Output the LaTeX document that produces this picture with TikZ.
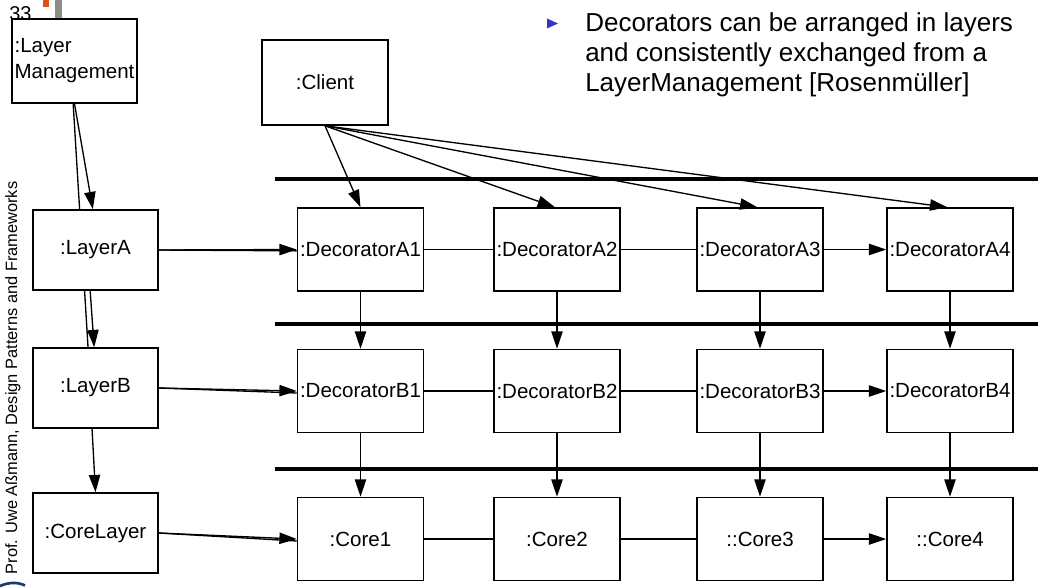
\documentclass[tikz,border=0pt]{standalone}
\usepackage{fontspec}
\setmainfont{Liberation Sans}
\usetikzlibrary{arrows.meta,backgrounds}
\definecolor{bulletblue}{HTML}{3333CC}
\definecolor{logoblue}{HTML}{1F3A6E}
\definecolor{barorange}{HTML}{E0501A}
\definecolor{bargray}{HTML}{8C8C8C}
\begin{document}
\begin{tikzpicture}[x=0.75pt,y=-0.75pt,
  box/.style={draw,line width=1.15pt,fill=white,minimum width=94.5pt,minimum height=62.25pt,inner sep=0pt,font=\fontsize{15.4}{19.5}\selectfont},
  lbox/.style={box,minimum width=93.75pt,minimum height=60pt},
  arr/.style={line width=1pt,-{Triangle[length=13pt,width=8.5pt]}},
  ln/.style={line width=1pt},
  sepline/.style={line width=3pt},
  bigtext/.style={font=\fontsize{19.5}{22.5}\selectfont,anchor=base west,inner sep=0pt}]

\useasboundingbox (0,0) rectangle (1038,587);

% header marks
\fill[barorange] (43,0) rectangle (49,7);
\fill[bargray] (55,0) rectangle (62,20);
\node[font=\fontsize{15}{16}\selectfont,anchor=base west,inner sep=0pt] (pg) at (9,20) {33};

% left column
\node[box,minimum width=93.75pt,minimum height=63pt,align=left] (LM) at (74.5,61) {:Layer\\Management};
\node[box,minimum height=63.75pt] (CL0) at (325,82.5) {:Client};
\node[lbox] (LA) at (95.5,250) {:LayerA};
\node[lbox] (LB) at (95.5,388) {:LayerB};
\node[lbox] (CL) at (95.5,533) {:CoreLayer};

% decorator rows
\node[box] (A1) at (360.5,249.5) {:DecoratorA1};
\node[box] (A2) at (557,249.5) {:DecoratorA2};
\node[box] (A3) at (760,249.5) {:DecoratorA3};
\node[box] (A4) at (950,249.5) {:DecoratorA4};
\node[box] (B1) at (360.5,391) {:DecoratorB1};
\node[box] (B2) at (557,391) {:DecoratorB2};
\node[box] (B3) at (760,391) {:DecoratorB3};
\node[box] (B4) at (950,391) {:DecoratorB4};
\node[box] (C1) at (360.5,539) {:Core1};
\node[box] (C2) at (557,539) {:Core2};
\node[box] (C3) at (760,539) {::Core3};
\node[box] (C4) at (950,539) {::Core4};

% layer separators
\draw[sepline] (275,179) -- (1038,179);
\draw[sepline] (275,324) -- (1038,324);
\draw[sepline] (275,469) -- (1038,469);

% layer management connectors
\begin{pgfonlayer}{background}
\draw[ln] ([xshift=-1pt]LM.south) -- ([xshift=-5.6pt]LB.north);
\end{pgfonlayer}
\draw[arr] (LM.south) -- ([xshift=-2pt]LA.north);
\draw[arr] ([xshift=-4pt]LA.south) -- ([xshift=-1pt]LB.north);
\draw[arr] ([xshift=-2.6pt]LB.south) -- (CL.north);

% layers to first decorators
\draw[ln] (LA.east) -- ([yshift=-1pt]A1.west);
\draw[arr] (LA.east) -- (A1.west);
\draw[ln] (LB.east) -- ([yshift=-1.5pt]B1.west);
\draw[arr] (LB.east) -- (B1.west);
\draw[ln] (CL.east) -- ([yshift=-1.5pt]C1.west);
\draw[arr] (CL.east) -- (C1.west);

% client
\draw[arr] (CL0.south) -- (A1.north);
\draw[arr] (CL0.south) -- ([xshift=-1.5pt]A2.north);
\draw[arr] (CL0.south) -- ([xshift=-2pt]A3.north);
\draw[arr] (CL0.south) -- ([xshift=-2pt]A4.north);

% row chains
\draw[ln] (A1.east) -- (A2.west);
\draw[ln] (A2.east) -- (A3.west);
\draw[arr] (A3.east) -- (A4.west);
\draw[ln] (B1.east) -- (B2.west);
\draw[ln] (B2.east) -- (B3.west);
\draw[arr] (B3.east) -- (B4.west);
\draw[ln] (C1.east) -- (C2.west);
\draw[ln] (C2.east) -- (C3.west);
\draw[arr] (C3.east) -- (C4.west);

% vertical delegation
\foreach \i in {1,2,3,4}{
  \draw[arr] (A\i.south) -- (B\i.north);
  \draw[arr] (B\i.south) -- (C\i.north);
}

% bullet text
\fill[bulletblue] (547,18.5) -- (558,23.5) -- (547,28.5) -- cycle;
\node[bigtext] (t1) at (585,31) {Decorators can be arranged in layers};
\node[bigtext] (t2) at (585,61) {and consistently exchanged from a};
\node[bigtext] (t3) at (585,91) {LayerManagement [Rosenmüller]};

% footer
\node[rotate=90,font=\fontsize{12.3}{14}\selectfont,inner sep=0pt] (foot) at (13,378) {Prof. Uwe Aßmann, Design Patterns and Frameworks};
\draw[logoblue,line width=2pt] (0,586) .. controls (9,582) and (18,582) .. (25,585.5);
\end{tikzpicture}
\end{document}
